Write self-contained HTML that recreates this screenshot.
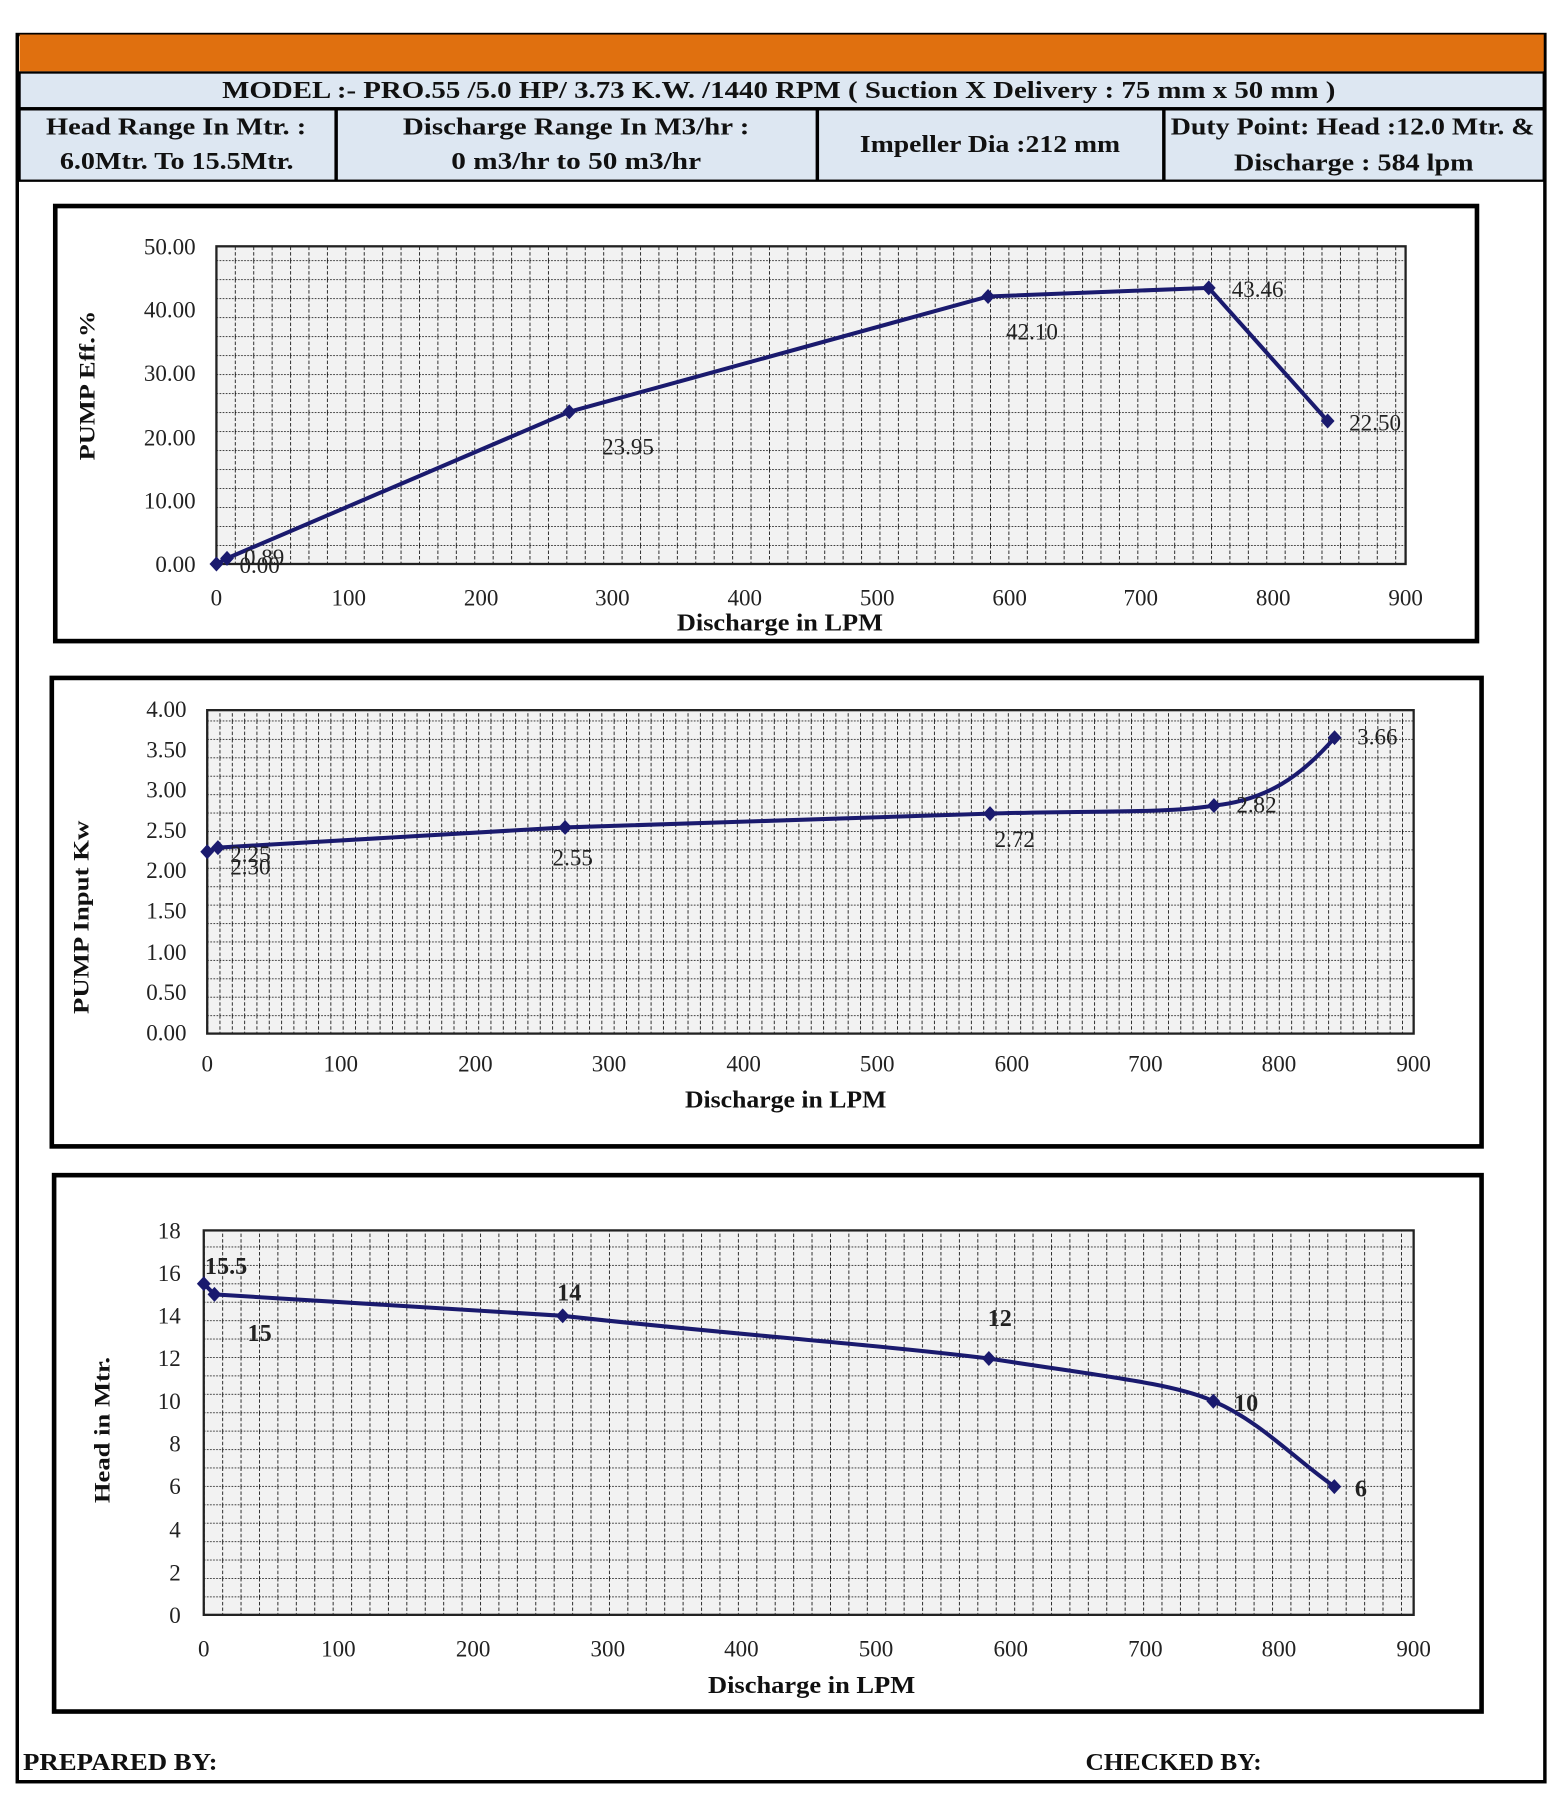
<!DOCTYPE html>
<html><head><meta charset="utf-8"><style>html,body{margin:0;padding:0;background:#fff;}svg{display:block}</style></head>
<body>
<svg width="1561" height="1799" viewBox="0 0 1356 1563" preserveAspectRatio="none" xmlns="http://www.w3.org/2000/svg" font-family="Liberation Serif, serif">
<defs>
<pattern id="g1" x="188" y="490" width="16" height="16.5" patternUnits="userSpaceOnUse">
<rect width="16" height="16.5" fill="#f2f2f2"/>
<line x1="0" y1="0" x2="16" y2="0" stroke="#222" stroke-width="1.5" stroke-dasharray="1.5,1.2"/>
<line x1="0" y1="0" x2="0" y2="16.5" stroke="#111" stroke-width="1.5" stroke-dasharray="3,1.8"/>
</pattern>
<pattern id="g2" x="180" y="898" width="10.7" height="16" patternUnits="userSpaceOnUse">
<rect width="10.7" height="16" fill="#f2f2f2"/>
<line x1="0" y1="0" x2="10.7" y2="0" stroke="#222" stroke-width="1.5" stroke-dasharray="1.5,1.2"/>
<line x1="0" y1="0" x2="0" y2="16" stroke="#111" stroke-width="1.5" stroke-dasharray="3,1.8"/>
</pattern>
<pattern id="g3" x="177" y="1403" width="16" height="16" patternUnits="userSpaceOnUse">
<rect width="16" height="16" fill="#f2f2f2"/>
<line x1="0" y1="0" x2="16" y2="0" stroke="#222" stroke-width="1.5" stroke-dasharray="1.5,1.2"/>
<line x1="0" y1="0" x2="0" y2="16" stroke="#111" stroke-width="1.5" stroke-dasharray="3,1.8"/>
</pattern>
<path id="dm" d="M0,-6.5 L6,0 L0,6.5 L-6,0 Z" fill="#1a1a6e"/>
</defs>

<rect x="15" y="30" width="1327" height="1518" fill="none" stroke="#000" stroke-width="3"/>
<rect x="17" y="30" width="1324" height="32" fill="#e0700f"/>
<rect x="17" y="63" width="1324" height="31" fill="#dde7f2" stroke="#000" stroke-width="2"/>
<text x="193" y="85" textLength="967" lengthAdjust="spacingAndGlyphs" font-size="21" font-weight="bold" fill="#111">MODEL :- PRO.55 /5.0 HP/ 3.73 K.W. /1440 RPM (  Suction X Delivery : 75 mm x 50 mm )</text>
<rect x="17" y="95" width="1324" height="62" fill="#dde7f2" stroke="#000" stroke-width="2"/>
<line x1="292" y1="95" x2="292" y2="157" stroke="#000" stroke-width="3"/>
<line x1="710" y1="95" x2="710" y2="157" stroke="#000" stroke-width="3"/>
<line x1="1011" y1="95" x2="1011" y2="157" stroke="#000" stroke-width="3"/>
<g font-size="21" font-weight="bold" fill="#111" lengthAdjust="spacingAndGlyphs">
<text x="40" y="117" textLength="226" lengthAdjust="spacingAndGlyphs">Head Range In Mtr. :</text>
<text x="52" y="147" textLength="203" lengthAdjust="spacingAndGlyphs">6.0Mtr. To 15.5Mtr.</text>
<text x="350" y="117" textLength="301" lengthAdjust="spacingAndGlyphs">Discharge Range In M3/hr :</text>
<text x="392" y="147" textLength="217" lengthAdjust="spacingAndGlyphs">0 m3/hr to 50 m3/hr</text>
<text x="747" y="132" textLength="226" lengthAdjust="spacingAndGlyphs">Impeller Dia :212 mm</text>
<text x="1017" y="117" textLength="316" lengthAdjust="spacingAndGlyphs">Duty Point: Head :12.0 Mtr. &amp;</text>
<text x="1072" y="148" textLength="208" lengthAdjust="spacingAndGlyphs">Discharge : 584 lpm</text>
</g>

<!-- CHART 1 -->
<rect x="48" y="179" width="1235" height="378" fill="#fff" stroke="#000" stroke-width="4"/>
<rect x="188" y="214" width="1033" height="276" fill="url(#g1)" stroke="#222" stroke-width="2"/>
<g font-size="20" fill="#222" text-anchor="end">
<text x="170" y="221">50.00</text><text x="170" y="276">40.00</text><text x="170" y="331">30.00</text>
<text x="170" y="387">20.00</text><text x="170" y="442">10.00</text><text x="170" y="497">0.00</text>
</g>
<g font-size="20" fill="#222" text-anchor="middle">
<text x="188" y="526">0</text><text x="303" y="526">100</text><text x="418" y="526">200</text><text x="532" y="526">300</text><text x="647" y="526">400</text>
<text x="762" y="526">500</text><text x="877" y="526">600</text><text x="991" y="526">700</text><text x="1106" y="526">800</text><text x="1221" y="526">900</text>
</g>
<text x="588" y="548" textLength="179" lengthAdjust="spacingAndGlyphs" font-size="21" font-weight="bold" fill="#111">Discharge in LPM</text>
<text transform="translate(82,335) rotate(-90)" x="-65" textLength="130" lengthAdjust="spacingAndGlyphs" font-size="19" font-weight="bold" fill="#111">PUMP Eff.%</text>
<polyline points="188,490 197.2,485.1 494.5,357.8 858.3,257.6 1050,250.1 1153.3,365.8" fill="none" stroke="#1a1a6e" stroke-width="3.5"/>
<use href="#dm" x="188" y="490"/><use href="#dm" x="197.2" y="485.1"/><use href="#dm" x="494.5" y="357.8"/><use href="#dm" x="858.3" y="257.6"/><use href="#dm" x="1050" y="250.1"/><use href="#dm" x="1153.3" y="365.8"/>
<g font-size="20" fill="#222">
<text x="212" y="491">0.89</text><text x="208" y="498">0.00</text><text x="523" y="395">23.95</text><text x="874" y="295">42.10</text><text x="1070" y="258">43.46</text><text x="1172" y="374">22.50</text>
</g>

<!-- CHART 2 -->
<rect x="45" y="589" width="1242" height="407" fill="#fff" stroke="#000" stroke-width="4"/>
<rect x="180" y="617" width="1048" height="281" fill="url(#g2)" stroke="#222" stroke-width="2"/>
<g font-size="20" fill="#222" text-anchor="end">
<text x="162" y="623">4.00</text><text x="162" y="658">3.50</text><text x="162" y="693">3.00</text><text x="162" y="728">2.50</text><text x="162" y="763">2.00</text>
<text x="162" y="798">1.50</text><text x="162" y="834">1.00</text><text x="162" y="869">0.50</text><text x="162" y="904">0.00</text>
</g>
<g font-size="20" fill="#222" text-anchor="middle">
<text x="180" y="931">0</text><text x="296" y="931">100</text><text x="413" y="931">200</text><text x="529" y="931">300</text><text x="646" y="931">400</text>
<text x="762" y="931">500</text><text x="879" y="931">600</text><text x="995" y="931">700</text><text x="1111" y="931">800</text><text x="1228" y="931">900</text>
</g>
<text x="595" y="962" textLength="175" lengthAdjust="spacingAndGlyphs" font-size="21" font-weight="bold" fill="#111">Discharge in LPM</text>
<text transform="translate(77,797) rotate(-90)" x="-84" textLength="168" lengthAdjust="spacingAndGlyphs" font-size="19" font-weight="bold" fill="#111">PUMP  Input Kw</text>
<path d="M180,740 L189.3,736.4 L490.9,718.9 L860,706.9 C950,704 1010,707 1054.5,699.9 C1100,695 1130,675 1159.3,640.9" fill="none" stroke="#1a1a6e" stroke-width="3.5"/>
<use href="#dm" x="180" y="740"/><use href="#dm" x="189.3" y="736.4"/><use href="#dm" x="490.9" y="718.9"/><use href="#dm" x="860" y="706.9"/><use href="#dm" x="1054.5" y="699.9"/><use href="#dm" x="1159.3" y="640.9"/>
<g font-size="20" fill="#222">
<text x="200" y="749">2.25</text><text x="200" y="760">2.30</text><text x="480" y="752">2.55</text><text x="864" y="736">2.72</text><text x="1074" y="706">2.82</text><text x="1179" y="647">3.66</text>
</g>

<!-- CHART 3 -->
<rect x="47" y="1021" width="1240" height="466" fill="#fff" stroke="#000" stroke-width="4"/>
<rect x="177" y="1069" width="1051" height="334" fill="url(#g3)" stroke="#222" stroke-width="2"/>
<g font-size="20" fill="#222" text-anchor="end">
<text x="157" y="1076">18</text><text x="157" y="1113">16</text><text x="157" y="1150">14</text><text x="157" y="1187">12</text><text x="157" y="1224">10</text>
<text x="157" y="1261">8</text><text x="157" y="1298">6</text><text x="157" y="1336">4</text><text x="157" y="1373">2</text><text x="157" y="1410">0</text>
</g>
<g font-size="20" fill="#222" text-anchor="middle">
<text x="177" y="1439">0</text><text x="294" y="1439">100</text><text x="411" y="1439">200</text><text x="528" y="1439">300</text><text x="644" y="1439">400</text>
<text x="761" y="1439">500</text><text x="878" y="1439">600</text><text x="995" y="1439">700</text><text x="1111" y="1439">800</text><text x="1228" y="1439">900</text>
</g>
<text x="615" y="1471" textLength="180" lengthAdjust="spacingAndGlyphs" font-size="21" font-weight="bold" fill="#111">Discharge in LPM</text>
<text transform="translate(95,1242) rotate(-90)" x="-64" textLength="127" lengthAdjust="spacingAndGlyphs" font-size="19" font-weight="bold" fill="#111">Head in Mtr.</text>
<path d="M177,1115.3 L186.3,1124.6 L488.8,1143.2 C620,1158 760,1168 859,1180.3 C960,1196 1020,1202 1054,1217.4 C1095,1235 1125,1268 1159.1,1291.6" fill="none" stroke="#1a1a6e" stroke-width="3.5"/>
<use href="#dm" x="177" y="1115.3"/><use href="#dm" x="186.3" y="1124.6"/><use href="#dm" x="488.8" y="1143.2"/><use href="#dm" x="859" y="1180.3"/><use href="#dm" x="1054" y="1217.4"/><use href="#dm" x="1159.1" y="1291.6"/>
<g font-size="21" fill="#222" font-weight="bold">
<text x="178" y="1107">15.5</text><text x="484" y="1130">14</text><text x="215" y="1165">15</text><text x="858" y="1152">12</text><text x="1072" y="1226">10</text><text x="1177" y="1300">6</text>
</g>

<text x="20" y="1538" textLength="169" lengthAdjust="spacingAndGlyphs" font-size="21" font-weight="bold" fill="#111">PREPARED BY:</text>
<text x="943" y="1538" textLength="153" lengthAdjust="spacingAndGlyphs" font-size="21" font-weight="bold" fill="#111">CHECKED BY:</text>
</svg>
</body></html>
